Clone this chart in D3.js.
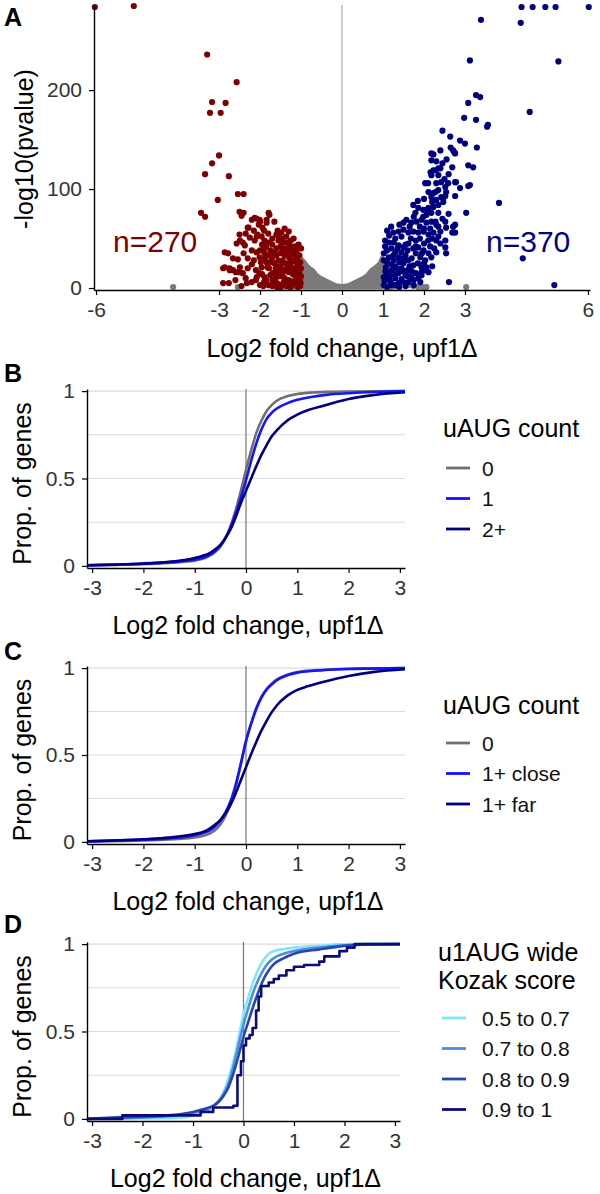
<!DOCTYPE html>
<html>
<head>
<meta charset="utf-8">
<script src="https://cdn.jsdelivr.net/npm/d3@7"></script>
<style>
  body { margin: 0; background: #fff; }
  text { font-family: "Liberation Sans", Arial, Helvetica, sans-serif; }
</style>
</head>
<body>
<div id="fig"></div>
<script>
// ---- panel A: volcano, [log2 fold change, -log10(pvalue)] ----
const volcanoTicks = [-6, -3, -2, -1, 0, 1, 2, 3, 6];
const pvalTicks = [0, 100, 200];

// upper edge of the dense grey (not significant) cloud
const greyEnvelope = [
  [-1.45, 0], [-1.4, 3], [-1.2, 10], [-1.05, 27], [-1.0, 31], [-0.9, 27], [-0.8, 22],
  [-0.7, 19], [-0.6, 14], [-0.5, 11], [-0.4, 9], [-0.3, 7], [-0.2, 5], [-0.1, 3.5],
  [0, 3], [0.1, 3.5], [0.2, 5], [0.3, 7], [0.4, 9], [0.5, 11], [0.6, 14], [0.7, 19],
  [0.8, 22], [0.9, 26], [0.98, 32], [1.05, 27], [1.2, 9], [1.35, 2], [1.4, 0]
];
const greyPoints = [
  [-4.12, 1], [-2.54, 1], [-1.48, 1], [-1.28, 1], [1.2, 1], [1.62, 3], [1.74, 2],
  [1.86, 1], [1.98, 1], [2.06, 1], [3.03, 1]
];
const downPoints = [
  [-6.03, 284], [-5.08, 285],
  [-3.29, 236], [-2.57, 208], [-3.17, 188], [-2.84, 187], [-3.22, 177], [-2.96, 177],
  [-3.0, 134], [-3.17, 126], [-3.34, 115], [-2.76, 113], [-2.54, 95], [-2.4, 95],
  [-3.03, 89], [-3.44, 76], [-3.34, 72], [-2.5, 77], [-2.4, 76], [-2.45, 73],
  [-1.79, 76], [-1.77, 74], [-2.13, 71], [-2.0, 67], [-2.08, 70], [-2.01, 69], [-2.2, 69],
  [-2.28, 61], [-1.84, 69], [-1.65, 67], [-1.84, 66], [-2.3, 61], [-2.03, 64], [-1.94, 61],
  [-1.40, 60], [-1.57, 58], [-1.48, 56], [-1.6, 54], [-2.5, 54], [-2.08, 52], [-2.49, 48],
  [-2.42, 46], [-2.25, 51], [-2.13, 48], [-2.06, 54], [-1.96, 52], [-1.89, 48], [-1.79, 46],
  [-2.57, 45], [-2.37, 43], [-1.36, 52], [-1.45, 46], [-1.28, 43], [-1.21, 38], [-1.11, 35],
  [-1.04, 33], [-2.78, 35], [-2.86, 36], [-2.66, 30], [-2.54, 29], [-2.86, 21], [-2.74, 20],
  [-2.49, 21], [-2.9, 20], [-2.74, 18], [-2.66, 18], [-2.5, 16], [-2.59, 16], [-2.42, 15],
  [-2.9, 5], [-2.76, 5], [-2.32, 5], [-2.08, 11], [-2.08, 36], [-2.01, 31], [-1.89, 35],
  [-1.77, 33], [-1.84, 26], [-1.72, 28], [-1.96, 21], [-1.82, 21], [-2.01, 15], [-1.89, 11],
  [-1.69, 15], [-1.53, 18], [-1.45, 25],
  [-1.6, 40], [-1.5, 42], [-1.4, 40], [-1.3, 38], [-1.2, 34], [-1.1, 30], [-1.6, 33],
  [-1.5, 35], [-1.4, 33], [-1.3, 31], [-1.2, 28], [-1.1, 25], [-1.05, 22], [-1.65, 25],
  [-1.55, 28], [-1.45, 28], [-1.35, 25], [-1.25, 22], [-1.15, 20], [-1.05, 16], [-1.62, 20],
  [-1.5, 20], [-1.4, 18], [-1.3, 16], [-1.2, 14], [-1.1, 11], [-1.03, 8], [-1.7, 8],
  [-1.6, 12], [-1.5, 12], [-1.4, 10], [-1.3, 8], [-1.2, 6], [-1.1, 4], [-1.02, 2],
  [-1.65, 4], [-1.55, 4], [-1.45, 3], [-1.35, 2], [-1.25, 1], [-1.8, 3], [-1.9, 6],
  [-2.0, 3], [-1.75, 38], [-1.7, 50], [-1.55, 48], [-1.35, 46], [-1.25, 48], [-1.15, 42],
  [-1.0, 40], [-1.02, 26], [-1.0, 12], [-1.9, 40], [-2.2, 38], [-2.3, 30], [-2.2, 24],
  [-2.1, 18], [-1.98, 26], [-1.78, 20], [-1.62, 8], [-2.35, 10], [-2.2, 6], [-1.95, 14],
  [-1.77, 3], [-1.5, 1],
  [-1.95, 44], [-1.85, 42], [-1.7, 44], [-1.65, 36], [-1.7, 31], [-1.75, 26], [-1.6, 16],
  [-1.75, 13], [-1.85, 8], [-1.7, 2], [-1.58, 0.5], [-1.42, 6], [-1.32, 5], [-1.22, 3],
  [-1.12, 8], [-1.08, 14], [-1.15, 17], [-1.25, 18], [-1.35, 20], [-1.45, 15], [-1.55, 22],
  [-1.25, 26], [-1.15, 27], [-1.35, 34], [-1.45, 38], [-1.25, 41], [-1.55, 52], [-1.45, 50],
  [-1.8, 55], [-1.9, 58], [-2.15, 58], [-2.35, 55], [-2.4, 35], [-2.3, 20], [-2.15, 28],
  [-2.0, 38], [-1.88, 30], [-1.92, 2], [-2.1, 8], [-2.45, 2], [-2.6, 8], [-1.12, 38],
  [-1.06, 44], [-1.18, 50], [-1.3, 57], [-1.0, 20], [-1.01, 5], [-1.08, 1]
];
const upPoints = [
  [4.38, 284], [4.65, 284], [4.96, 284], [5.21, 284], [6.02, 284],
  [3.39, 271], [4.36, 268], [3.12, 230], [5.28, 229], [3.27, 195], [3.37, 193], [3.08, 187],
  [4.58, 178], [2.98, 172], [3.27, 170], [3.56, 165], [3.54, 163], [2.45, 159], [2.64, 153],
  [2.88, 149], [3.0, 146], [3.29, 142], [2.74, 137], [2.18, 136], [2.4, 139], [2.76, 136],
  [2.71, 139], [2.23, 135], [2.18, 129], [2.45, 126], [2.35, 121], [2.23, 119], [3.08, 124],
  [3.2, 122], [3.12, 104], [2.69, 122], [2.76, 107], [2.16, 117], [2.28, 119], [2.4, 121],
  [2.18, 114], [2.35, 114], [2.42, 107], [2.03, 106], [2.3, 106], [2.59, 106], [2.78, 107],
  [2.1, 106], [2.52, 102], [2.88, 101], [3.08, 103], [2.11, 97], [2.23, 96], [2.35, 99],
  [2.42, 92], [2.52, 93], [2.54, 97], [2.76, 93], [2.28, 97], [2.18, 92], [2.3, 89],
  [2.47, 91], [3.83, 86], [3.03, 76],
  [1.74, 84], [1.86, 81], [1.98, 79], [2.11, 81], [2.23, 82], [2.35, 84], [2.47, 87],
  [2.18, 76], [2.06, 74], [2.35, 76], [1.79, 76], [2.06, 79], [1.98, 72], [2.28, 67],
  [2.52, 67], [2.35, 62], [2.76, 64], [2.69, 56], [2.52, 48], [2.3, 48],
  [1.57, 69], [1.69, 66], [1.82, 67], [1.94, 69], [2.06, 66], [2.18, 67], [2.30, 64],
  [2.54, 61], [2.71, 62], [2.76, 56],
  [1.38, 57], [1.50, 59], [1.62, 56], [1.74, 57], [1.86, 56], [1.99, 57], [2.11, 54],
  [2.23, 56], [2.35, 52], [2.52, 41],
  [1.14, 46], [1.26, 46], [1.38, 43], [1.50, 41], [1.62, 45], [1.74, 40], [1.86, 41],
  [1.99, 38], [2.11, 35], [1.91, 31], [2.03, 28], [2.18, 31], [2.06, 21], [1.94, 16], [2.11, 16],
  [1.02, 35], [1.14, 31], [1.26, 28], [1.38, 31], [1.50, 25], [1.62, 28], [1.74, 23],
  [1.07, 21], [1.21, 18], [1.38, 15], [1.55, 13], [1.69, 11], [1.86, 10], [1.02, 11],
  [1.19, 6], [1.38, 5], [1.62, 6], [1.02, 3], [1.21, 3], [2.61, 6], [1.91, 6],
  [1.94, 21], [2.03, 18], [1.94, 13], [4.41, 30], [5.18, 3], [2.54, 35],
  [1.05, 42], [1.1, 38], [1.2, 40], [1.3, 36], [1.45, 36], [1.55, 33], [1.1, 26], [1.2, 24],
  [1.3, 22], [1.45, 20], [1.6, 18], [1.1, 15], [1.3, 10], [1.45, 9], [1.55, 2], [1.7, 30],
  [1.8, 35], [1.68, 50], [1.45, 52], [1.3, 50], [1.15, 53], [1.8, 48], [1.9, 50], [2.0, 45],
  [2.15, 42], [2.25, 40], [1.8, 15], [1.75, 3],
  [1.05, 48], [1.02, 28], [1.06, 17], [1.04, 7], [1.1, 1], [1.15, 10], [1.25, 14], [1.35, 19],
  [1.4, 26], [1.25, 33], [1.35, 40], [1.55, 44], [1.6, 38], [1.5, 30], [1.65, 22], [1.5, 17],
  [1.4, 1], [1.3, 3], [1.5, 6], [1.6, 12], [1.7, 17], [1.75, 8], [1.85, 25], [1.95, 35],
  [2.0, 25], [1.8, 42], [2.1, 48], [2.2, 50], [1.65, 62], [1.5, 66], [1.4, 64], [1.75, 72],
  [1.9, 62], [2.0, 60], [2.15, 60], [2.4, 57], [2.45, 70], [2.6, 75], [2.2, 87], [2.0, 90],
  [2.5, 110], [2.6, 115], [2.3, 128], [2.55, 130], [2.65, 142], [1.25, 56], [1.2, 62],
  [1.85, 88], [1.1, 58], [2.3, 36], [2.4, 45], [2.2, 22]
];
const nDown = 'n=270';
const nUp = 'n=370';

// ---- panels B-D: cumulative proportion of genes, [log2 fold change, proportion] ----
const foldTicks = [-3, -2, -1, 0, 1, 2, 3];
const propGrid = [0, 0.25, 0.5, 0.75, 1];
const propTicks = [0, 0.5, 1];

const bLabels = ['0', '1', '2+'];
const bZero = [[-3.1, 0.003], [-2.5, 0.006], [-2, 0.01], [-1.5, 0.017], [-1.2, 0.024], [-1, 0.03],
  [-0.8, 0.045], [-0.7, 0.06], [-0.6, 0.08], [-0.5, 0.11], [-0.4, 0.16], [-0.3, 0.23], [-0.2, 0.32],
  [-0.1, 0.43], [0, 0.55], [0.1, 0.66], [0.2, 0.76], [0.3, 0.83], [0.4, 0.885], [0.5, 0.92],
  [0.6, 0.945], [0.8, 0.97], [1.0, 0.983], [1.3, 0.992], [1.6, 0.996], [2, 0.998], [3.1, 1]];
const bOne = [[-3.1, 0.003], [-2.5, 0.008], [-2, 0.012], [-1.5, 0.02], [-1.2, 0.028], [-1, 0.036],
  [-0.8, 0.05], [-0.7, 0.065], [-0.6, 0.085], [-0.5, 0.115], [-0.4, 0.16], [-0.3, 0.22], [-0.2, 0.3],
  [-0.1, 0.39], [0, 0.49], [0.1, 0.6], [0.2, 0.7], [0.3, 0.78], [0.4, 0.84], [0.5, 0.875],
  [0.6, 0.9], [0.8, 0.93], [1.0, 0.95], [1.3, 0.968], [1.6, 0.98], [2, 0.988], [2.5, 0.995], [3.1, 1]];
const bTwoPlus = [[-3.1, 0.004], [-2.5, 0.008], [-2, 0.014], [-1.5, 0.024], [-1.2, 0.034], [-1, 0.045],
  [-0.8, 0.062], [-0.7, 0.075], [-0.6, 0.095], [-0.5, 0.12], [-0.4, 0.16], [-0.3, 0.21], [-0.2, 0.28],
  [-0.1, 0.36], [0, 0.43], [0.1, 0.5], [0.2, 0.57], [0.3, 0.635], [0.4, 0.69], [0.5, 0.74],
  [0.6, 0.775], [0.8, 0.83], [1.0, 0.865], [1.2, 0.89], [1.5, 0.915], [1.8, 0.94], [2.0, 0.955],
  [2.5, 0.978], [3.1, 0.993]];

const cLabels = ['0', '1+ close', '1+ far'];
const cZero = [[-3.1, 0.002], [-2, 0.008], [-1.5, 0.014], [-1, 0.025], [-0.8, 0.038], [-0.7, 0.05],
  [-0.6, 0.068], [-0.5, 0.1], [-0.4, 0.15], [-0.3, 0.22], [-0.2, 0.32], [-0.1, 0.45], [0, 0.58],
  [0.1, 0.68], [0.2, 0.77], [0.3, 0.835], [0.4, 0.88], [0.5, 0.91], [0.6, 0.935], [0.8, 0.962],
  [1, 0.977], [1.5, 0.99], [2, 0.996], [3.1, 1]];
const cClose = [[-3.1, 0.003], [-2, 0.013], [-1.5, 0.02], [-1, 0.038], [-0.8, 0.055], [-0.7, 0.068],
  [-0.6, 0.09], [-0.5, 0.125], [-0.4, 0.17], [-0.3, 0.235], [-0.2, 0.33], [-0.1, 0.45], [0, 0.58],
  [0.1, 0.68], [0.2, 0.765], [0.3, 0.83], [0.4, 0.875], [0.5, 0.905], [0.6, 0.93], [0.8, 0.958],
  [1, 0.974], [1.5, 0.988], [2, 0.995], [3.1, 1]];
const cFar = [[-3.1, 0.004], [-2, 0.015], [-1.5, 0.025], [-1, 0.045], [-0.8, 0.062], [-0.7, 0.078],
  [-0.6, 0.1], [-0.5, 0.125], [-0.4, 0.165], [-0.3, 0.215], [-0.2, 0.28], [-0.1, 0.355], [0, 0.43],
  [0.1, 0.505], [0.2, 0.575], [0.3, 0.64], [0.4, 0.695], [0.5, 0.745], [0.6, 0.785], [0.8, 0.84],
  [1, 0.875], [1.2, 0.895], [1.5, 0.92], [2, 0.955], [2.5, 0.978], [3.1, 0.993]];

const dLabels = ['0.5 to 0.7', '0.7 to 0.8', '0.8 to 0.9', '0.9 to 1'];
const dLow = [[-3.1, 0], [-2.0, 0.002], [-1.3, 0.005], [-1.0, 0.02], [-0.8, 0.04], [-0.6, 0.07],
  [-0.5, 0.1], [-0.4, 0.15], [-0.3, 0.23], [-0.2, 0.33], [-0.1, 0.46], [0, 0.6], [0.1, 0.7],
  [0.2, 0.79], [0.3, 0.86], [0.4, 0.91], [0.5, 0.945], [0.6, 0.96], [0.8, 0.972], [1, 0.98],
  [1.5, 0.99], [2.1, 1], [3.1, 1]];
const dMid = [[-3.1, 0], [-2.3, 0.005], [-1.5, 0.015], [-1, 0.035], [-0.8, 0.05], [-0.6, 0.075],
  [-0.5, 0.1], [-0.4, 0.14], [-0.3, 0.2], [-0.2, 0.3], [-0.1, 0.42], [0, 0.54], [0.1, 0.64],
  [0.2, 0.73], [0.3, 0.8], [0.4, 0.855], [0.5, 0.895], [0.6, 0.92], [0.8, 0.945], [1, 0.96],
  [1.5, 0.98], [2, 0.993], [2.5, 1], [3.1, 1]];
const dHigh = [[-3.1, 0], [-2.4, 0.01], [-1.5, 0.02], [-1, 0.04], [-0.8, 0.055], [-0.6, 0.075],
  [-0.5, 0.095], [-0.4, 0.13], [-0.3, 0.18], [-0.2, 0.26], [-0.1, 0.36], [0, 0.47], [0.1, 0.56],
  [0.2, 0.65], [0.3, 0.73], [0.4, 0.8], [0.5, 0.85], [0.6, 0.885], [0.8, 0.92], [1, 0.945],
  [1.5, 0.97], [2, 0.99], [2.5, 0.998], [3.1, 1]];
// few genes in the top bin, so this one is drawn as steps
const dTop = [[-3.1, 0], [-2.4, 0.02], [-0.85, 0.04], [-0.6, 0.065], [-0.2, 0.075], [-0.12, 0.25],
  [-0.05, 0.33], [0, 0.42], [0.05, 0.46], [0.12, 0.48], [0.18, 0.52], [0.25, 0.62], [0.3, 0.7],
  [0.35, 0.76], [0.5, 0.78], [0.6, 0.8], [0.7, 0.82], [0.85, 0.85], [1.0, 0.87], [1.2, 0.88],
  [1.5, 0.9], [1.6, 0.93], [1.9, 0.96], [2.05, 0.98], [2.2, 1.0], [3.1, 1.0]];

const xTitle = 'Log2 fold change, upf1\u0394';
const plain = d => String(d);   // keep the ASCII hyphen minus of the original

const svg = d3.select('#fig').append('svg')
  .attr('width', 600)
  .attr('height', 1194);

function styleAxis(g) {
  g.select('.domain').attr('stroke', '#000').attr('stroke-width', 1.4);
  g.selectAll('.tick line').attr('stroke', '#000').attr('stroke-width', 1.2);
  g.selectAll('.tick text').attr('fill', '#333').style('font-size', '21px').attr('font-family', null);
}

function panelLetter(letter, y) {
  svg.append('text').attr('x', 4).attr('y', y)
    .style('font-size', '25px').style('font-weight', 'bold').text(letter);
}

function yTitle(text, x, y) {
  svg.append('text')
    .attr('transform', `translate(${x},${y}) rotate(-90)`)
    .attr('text-anchor', 'middle')
    .style('font-size', '25px')
    .text(text);
}

// ===================== A =====================
const xA = d3.scaleLinear().domain([-6.05, 6.05]).range([94, 590]);
const yA = d3.scaleLinear().domain([-2, 286]).range([290, 5]);
const dotR = 3.1;

panelLetter('A', 26);

svg.append('line')
  .attr('x1', xA(0)).attr('x2', xA(0))
  .attr('y1', yA.range()[1]).attr('y2', yA.range()[0])
  .attr('stroke', '#aaa').attr('stroke-width', 1.2);

svg.append('path')
  .datum(greyEnvelope)
  .attr('fill', '#7a7a7a')
  .attr('stroke', '#7a7a7a')
  .attr('stroke-width', 2)
  .attr('d', d3.area()
    .x(d => xA(d[0]))
    .y0(yA(-0.5))
    .y1(d => yA(d[1]))
    .curve(d3.curveMonotoneX));

svg.append('g').selectAll('circle').data(greyPoints).join('circle')
  .attr('cx', d => xA(d[0])).attr('cy', d => yA(d[1])).attr('r', dotR).attr('fill', '#7a7a7a');
svg.append('g').selectAll('circle').data(downPoints).join('circle')
  .attr('cx', d => xA(d[0])).attr('cy', d => yA(d[1])).attr('r', dotR).attr('fill', '#7f0000');
svg.append('g').selectAll('circle').data(upPoints).join('circle')
  .attr('cx', d => xA(d[0])).attr('cy', d => yA(d[1])).attr('r', dotR).attr('fill', '#00007f');

svg.append('g').attr('transform', 'translate(0,290)')
  .call(d3.axisBottom(xA).tickValues(volcanoTicks).tickFormat(plain)
    .tickSize(5).tickPadding(7).tickSizeOuter(0))
  .call(styleAxis);
svg.append('g').attr('transform', 'translate(94,0)')
  .call(d3.axisLeft(yA).tickValues(pvalTicks).tickFormat(plain)
    .tickSize(5).tickPadding(7).tickSizeOuter(0))
  .call(styleAxis);

svg.append('text').attr('x', 113).attr('y', 252).attr('fill', '#7f0000')
  .style('font-size', '30px').text(nDown);
svg.append('text').attr('x', 486).attr('y', 252).attr('fill', '#00007f')
  .style('font-size', '30px').text(nUp);

svg.append('text').attr('x', 342).attr('y', 357).attr('text-anchor', 'middle')
  .style('font-size', '25px').text(xTitle);
yTitle('-log10(pvalue)', 33, 149);

// ===================== B, C, D =====================
function ecdfPanel(cfg) {
  const x = d3.scaleLinear().domain([-3.1, 3.1]).range([87, cfg.right]);
  const y = d3.scaleLinear().domain([-0.012, 1.012]).range([cfg.bottom, cfg.top]);

  panelLetter(cfg.letter, cfg.letterY);

  svg.append('g').selectAll('line').data(propGrid.slice(1)).join('line')
    .attr('x1', x.range()[0]).attr('x2', x.range()[1])
    .attr('y1', d => y(d)).attr('y2', d => y(d))
    .attr('stroke', '#dcdcdc').attr('stroke-width', 1.1);

  svg.append('line')
    .attr('x1', x(0)).attr('x2', x(0))
    .attr('y1', cfg.top).attr('y2', cfg.bottom)
    .attr('stroke', '#777').attr('stroke-width', 1.2);

  cfg.series.forEach((s, i) => {
    svg.append('path')
      .datum(s)
      .attr('fill', 'none')
      .attr('stroke', cfg.colors[i])
      .attr('stroke-width', 2.6)
      .attr('stroke-linejoin', 'round')
      .attr('d', d3.line()
        .x(d => x(d[0]))
        .y(d => y(d[1]))
        .curve(cfg.steps && cfg.steps[i] ? d3.curveStepAfter : d3.curveMonotoneX));
  });

  svg.append('g').attr('transform', `translate(0,${cfg.bottom})`)
    .call(d3.axisBottom(x).tickValues(foldTicks).tickFormat(plain)
      .tickSize(5).tickPadding(7).tickSizeOuter(0))
    .call(styleAxis);
  svg.append('g').attr('transform', `translate(87,0)`)
    .call(d3.axisLeft(y).tickValues(propTicks).tickFormat(plain)
      .tickSize(5).tickPadding(7).tickSizeOuter(0))
    .call(styleAxis);

  svg.append('text').attr('x', (87 + cfg.right) / 2 + 2).attr('y', cfg.bottom + 66)
    .attr('text-anchor', 'middle').style('font-size', '25px').text(xTitle);
  yTitle('Prop. of genes', 31, (cfg.top + cfg.bottom) / 2 + 5);

  // legend
  const lg = svg.append('g');
  cfg.legendTitle.forEach((t, i) => {
    lg.append('text').attr('x', cfg.legendX).attr('y', cfg.legendTitleY + i * 28)
      .style('font-size', '25px').text(t);
  });
  cfg.labels.forEach((lab, i) => {
    const cy = cfg.itemY0 + i * 30.5;
    lg.append('line')
      .attr('x1', cfg.keyX).attr('x2', cfg.keyX + 24)
      .attr('y1', cy).attr('y2', cy)
      .attr('stroke', cfg.colors[i]).attr('stroke-width', 2.8);
    lg.append('text').attr('x', 482).attr('y', cy).attr('dy', '0.36em')
      .style('font-size', '21px').attr('fill', '#111').text(lab);
  });
}

ecdfPanel({
  letter: 'B', letterY: 382, top: 389, bottom: 568, right: 405,
  series: [bZero, bOne, bTwoPlus],
  colors: ['#707070', '#1414ff', '#00007f'],
  labels: bLabels, legendTitle: ['uAUG count'], legendX: 443, legendTitleY: 437,
  keyX: 446, itemY0: 468
});

ecdfPanel({
  letter: 'C', letterY: 660, top: 666, bottom: 844, right: 405,
  series: [cZero, cClose, cFar],
  colors: ['#707070', '#1414ff', '#00007f'],
  labels: cLabels, legendTitle: ['uAUG count'], legendX: 443, legendTitleY: 714,
  keyX: 446, itemY0: 743
});

ecdfPanel({
  letter: 'D', letterY: 933, top: 942, bottom: 1121, right: 400,
  series: [dLow, dMid, dHigh, dTop],
  steps: [false, false, false, true],
  colors: ['#80e6ff', '#4b8fd9', '#2a44b0', '#0b0b78'],
  labels: dLabels, legendTitle: ['u1AUG wide', 'Kozak score'], legendX: 438, legendTitleY: 961,
  keyX: 442, itemY0: 1018
});
</script>
</body>
</html>
